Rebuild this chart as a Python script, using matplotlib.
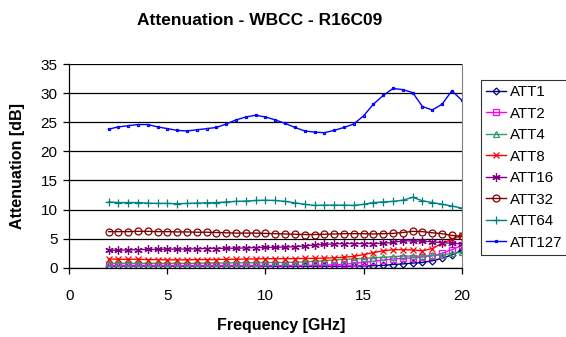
import matplotlib
matplotlib.use("Agg")
import matplotlib.pyplot as plt

plt.rcParams['font.family'] = ['Liberation Sans', 'DejaVu Sans']

# Frequenz-Stuetzstellen [GHz]
freq = [2.0, 2.5, 3.0, 3.5, 4.0, 4.5, 5.0, 5.5, 6.0, 6.5, 7.0, 7.5, 8.0, 8.5,
        9.0, 9.5, 10.0, 10.5, 11.0, 11.5, 12.0, 12.5, 13.0, 13.5, 14.0, 14.5,
        15.0, 15.5, 16.0, 16.5, 17.0, 17.5, 18.0, 18.5, 19.0, 19.5, 20.0]

att1 = [0.30, 0.30, 0.30, 0.30, 0.30, 0.28, 0.28, 0.28, 0.28, 0.28, 0.28, 0.28,
        0.28, 0.28, 0.28, 0.28, 0.28, 0.25, 0.25, 0.25, 0.25, 0.25, 0.25, 0.25,
        0.25, 0.28, 0.30, 0.35, 0.40, 0.55, 0.65, 0.80, 0.90, 1.20, 1.60, 2.20,
        3.00]
att2 = [0.40, 0.40, 0.40, 0.40, 0.38, 0.38, 0.38, 0.38, 0.38, 0.38, 0.38, 0.38,
        0.38, 0.38, 0.38, 0.38, 0.38, 0.38, 0.38, 0.38, 0.40, 0.42, 0.45, 0.50,
        0.60, 0.75, 0.90, 1.10, 1.30, 1.50, 1.60, 1.70, 1.85, 2.05, 2.45, 3.10,
        3.85]
att4 = [0.75, 0.75, 0.75, 0.75, 0.75, 0.75, 0.75, 0.75, 0.75, 0.75, 0.80, 0.80,
        0.80, 0.85, 0.85, 0.85, 0.90, 0.90, 0.90, 0.95, 1.00, 1.10, 1.20, 1.35,
        1.45, 1.50, 1.60, 1.70, 1.80, 1.90, 2.00, 2.00, 2.00, 2.10, 2.20, 2.45,
        2.65]
att8 = [1.50, 1.45, 1.45, 1.45, 1.40, 1.40, 1.35, 1.35, 1.35, 1.40, 1.40, 1.40,
        1.45, 1.45, 1.50, 1.50, 1.55, 1.55, 1.55, 1.55, 1.60, 1.60, 1.65, 1.70,
        1.80, 1.95, 2.25, 2.60, 2.90, 3.10, 3.10, 3.05, 2.90, 3.30, 4.20, 4.85,
        5.55]
att16 = [3.00, 3.00, 3.05, 3.10, 3.15, 3.15, 3.20, 3.20, 3.20, 3.25, 3.30, 3.30,
         3.35, 3.35, 3.40, 3.45, 3.50, 3.50, 3.55, 3.60, 3.75, 3.90, 4.00, 4.10,
         4.15, 4.15, 4.15, 4.15, 4.20, 4.35, 4.60, 4.60, 4.55, 4.45, 4.30, 4.20,
         4.10]
att32 = [6.20, 6.20, 6.20, 6.25, 6.25, 6.20, 6.20, 6.15, 6.15, 6.10, 6.10, 6.05,
         6.00, 5.95, 5.95, 5.95, 5.90, 5.85, 5.80, 5.75, 5.70, 5.70, 5.75, 5.80,
         5.85, 5.85, 5.85, 5.80, 5.85, 5.90, 6.05, 6.25, 6.20, 6.00, 5.85, 5.55,
         5.40]
att64 = [11.30, 11.20, 11.20, 11.20, 11.10, 11.05, 11.05, 11.00, 11.05, 11.10,
         11.15, 11.20, 11.30, 11.40, 11.45, 11.55, 11.60, 11.55, 11.40, 11.15,
         10.90, 10.70, 10.75, 10.75, 10.75, 10.70, 10.90, 11.20, 11.30, 11.40,
         11.60, 12.10, 11.50, 11.20, 10.90, 10.60, 10.25]
att127 = [23.8, 24.2, 24.4, 24.6, 24.6, 24.2, 23.9, 23.6, 23.5, 23.7, 23.9, 24.1,
          24.7, 25.4, 25.9, 26.2, 25.9, 25.4, 24.8, 24.1, 23.5, 23.3, 23.2, 23.6,
          24.1, 24.7, 26.1, 28.1, 29.6, 30.8, 30.6, 30.1, 27.7, 27.1, 28.1, 30.4,
          28.8]

series = [
    ("ATT1", att1, "#000080", "D", 3.5),
    ("ATT2", att2, "#FF00FF", "s", 4.5),
    ("ATT4", att4, "#339966", "^", 4.5),
    ("ATT8", att8, "#FF0000", "x", 5),
    ("ATT16", att16, "#800080", (6, 2, 0), 6),
    ("ATT32", att32, "#800000", "o", 5),
    ("ATT64", att64, "#008080", "+", 6),
    ("ATT127", att127, "#0000FF", "s", 1.8),
]

fig = plt.figure(figsize=(5.66, 3.37), dpi=100)
ax = fig.add_axes([0.1224, 0.2056, 0.6933, 0.6044])

for name, vals, col, mk, ms in series:
    ax.plot(freq, vals, color=col, lw=1.0, marker=mk, markersize=ms,
            mfc="none" if mk not in ("x", "+", (6, 2, 0)) else col,
            mec=col, mew=0.9, label=name)

ax.set_xlim(0, 20)
ax.set_ylim(0, 35)
ax.set_xticks([0, 5, 10, 15, 20])
ax.set_yticks(range(0, 36, 5))
ax.yaxis.grid(True, color="black", lw=0.9)
ax.set_axisbelow(True)
ax.spines["top"].set_visible(False)
ax.spines["right"].set_color("#808080")
ax.spines["left"].set_lw(0.9)
ax.spines["bottom"].set_lw(0.9)
ax.tick_params(axis="both", direction="out", length=4.5, width=0.9,
               labelsize=11)
ax.tick_params(axis="x", pad=11)
ax.tick_params(axis="y", pad=4)

ax.set_xlabel("Frequency [GHz]", fontsize=11.5, fontweight="bold")
ax.set_ylabel("Attenuation [dB]", fontsize=11.5, fontweight="bold")
ax.xaxis.set_label_coords(0.54, -0.245)
ax.yaxis.set_label_coords(-0.113, 0.5)

fig.text(0.458, 0.94, "Attenuation - WBCC - R16C09", fontsize=12.5,
         fontweight="bold", ha="center", va="center")

leg = ax.legend(loc="upper left", bbox_to_anchor=(0.85, 0.763),
                bbox_transform=fig.transFigure, fontsize=10.8, frameon=True,
                fancybox=False, edgecolor="black", handlelength=1.3,
                handletextpad=0.25, labelspacing=0.5, borderpad=0.35,
                borderaxespad=0)
leg.get_frame().set_linewidth(0.8)

fig.savefig("out.png", dpi=100)
